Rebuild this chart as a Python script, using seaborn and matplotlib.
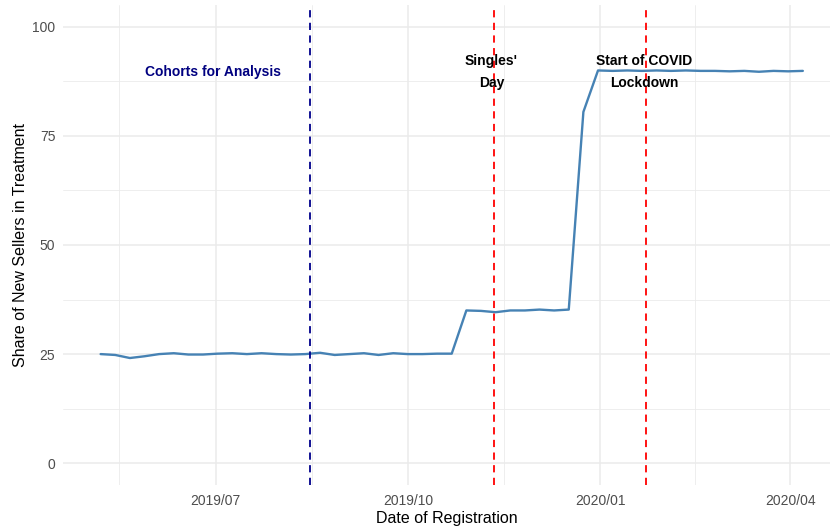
import numpy as np
import pandas as pd
import matplotlib
matplotlib.use("Agg")
import matplotlib.pyplot as plt
import matplotlib.dates as mdates
import seaborn as sns

# ---- data ----
reg_dates = [
    "2019-05-07", "2019-05-14", "2019-05-21", "2019-05-28", "2019-06-04", "2019-06-11",
    "2019-06-18", "2019-06-25", "2019-07-02", "2019-07-09", "2019-07-16", "2019-07-23",
    "2019-07-30", "2019-08-06", "2019-08-13", "2019-08-20", "2019-08-27", "2019-09-03",
    "2019-09-10", "2019-09-17", "2019-09-24", "2019-10-01", "2019-10-08", "2019-10-15",
    "2019-10-22", "2019-10-29", "2019-11-05", "2019-11-12", "2019-11-19", "2019-11-26",
    "2019-12-03", "2019-12-10", "2019-12-17", "2019-12-24", "2019-12-31", "2020-01-07",
    "2020-01-14", "2020-01-21", "2020-01-28", "2020-02-04", "2020-02-11", "2020-02-18",
    "2020-02-25", "2020-03-03", "2020-03-10", "2020-03-17", "2020-03-24", "2020-03-31",
    "2020-04-07",
]
share_treated = [
    25.0, 24.8, 24.1, 24.5, 25.0, 25.2, 24.9, 24.9, 25.1, 25.2, 25.0, 25.2,
    25.0, 24.9, 25.0, 25.3, 24.8, 25.0, 25.2, 24.8, 25.2, 25.0, 25.0, 25.1,
    25.1, 35.0, 34.9, 34.6, 35.0, 35.0, 35.2, 35.0, 35.2, 80.5, 90.0, 89.9,
    90.0, 89.9, 90.0, 89.9, 90.0, 89.9, 89.9, 89.8, 89.9, 89.7, 89.9, 89.8,
    89.9,
]
cohort_cutoff = "2019-08-15"
event_dates = ["2019-11-11", "2020-01-23"]
event_labels = ["Singles'\nDay", "Start of COVID\nLockdown"]
cohort_label = "Cohorts for Analysis"
cohort_label_date = "2019-06-30"
label_y = 89.6
x_breaks = ["2019-07-01", "2019-10-01", "2020-01-01", "2020-04-01"]
x_break_labels = ["2019/07", "2019/10", "2020/01", "2020/04"]
y_breaks = [0, 25, 50, 75, 100]

df = pd.DataFrame({"date": pd.to_datetime(reg_dates), "share": share_treated})

# ---- style ----
sns.set_theme(style="white")
plt.rcParams["font.family"] = ["Liberation Sans", "DejaVu Sans"]

fig = plt.figure(figsize=(8.30, 5.29), dpi=100)
ax = fig.add_axes([63 / 830, 1 - 485 / 529, (830 - 63) / 830, (485 - 5) / 529])

grid_c = "#EBEBEB"
xl = mdates.date2num(pd.Timestamp("2019-04-19"))
xr = mdates.date2num(pd.Timestamp("2020-04-20"))
ax.set_xlim(xl, xr)
ax.set_ylim(-5, 105)

xb = [mdates.date2num(pd.Timestamp(d)) for d in x_breaks]
minor_x = [xb[0] - (xb[1] - xb[0]) / 2] + [(a + b) / 2 for a, b in zip(xb[:-1], xb[1:])]
for v in xb:
    ax.axvline(v, color=grid_c, lw=1.1, zorder=0)
for v in minor_x:
    ax.axvline(v, color=grid_c, lw=0.6, zorder=0)
for v in y_breaks:
    ax.axhline(v, color=grid_c, lw=1.1, zorder=0)
for v in [12.5, 37.5, 62.5, 87.5]:
    ax.axhline(v, color=grid_c, lw=0.6, zorder=0)

sns.lineplot(data=df, x="date", y="share", ax=ax, color="#4682B4", lw=1.7, zorder=3)

ax.axvline(pd.Timestamp(cohort_cutoff), color="#00008B", ls=(0, (4, 3)), lw=1.3, zorder=4)
for d in event_dates:
    ax.axvline(pd.Timestamp(d), color="#FF0000", ls=(0, (4, 3)), lw=1.3, zorder=4)

ax.text(pd.Timestamp(cohort_label_date), label_y, cohort_label, color="#000080",
        fontsize=10, fontweight="bold", ha="center", va="center", zorder=5)
for d, lab in zip(event_dates, event_labels):
    ax.text(pd.Timestamp(d) - pd.Timedelta(days=1), label_y, lab, color="black", fontsize=10,
            fontweight="bold", ha="center", va="center", linespacing=1.75, zorder=5)

ax.set_xticks(xb)
ax.set_xticklabels(x_break_labels)
ax.set_yticks(y_breaks)
ax.tick_params(axis="both", length=0, labelsize=10, labelcolor="#4D4D4D")
ax.tick_params(axis="y", pad=5.5)
ax.tick_params(axis="x", pad=6.5)
ax.set_xlabel("Date of Registration", fontsize=11.5, color="black", labelpad=2)
ax.set_ylabel("Share of New Sellers in Treatment", fontsize=11.5, color="black", labelpad=3)
for s in ax.spines.values():
    s.set_visible(False)
ax.grid(False)
ax.set_facecolor("white")

fig.savefig("out.png", dpi=100, facecolor="white")
